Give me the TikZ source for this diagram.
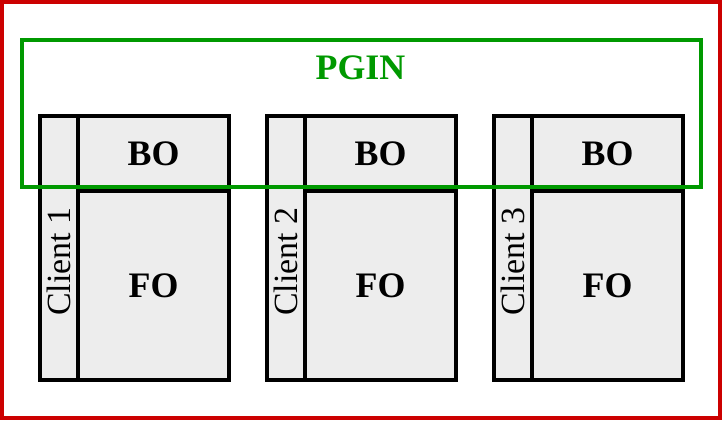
\documentclass[tikz,border=0pt]{standalone}
\usepackage{fontspec}
\setmainfont{Liberation Serif}
\usepackage{tikz}
\definecolor{pginred}{RGB}{204,0,0}
\definecolor{pgingreen}{RGB}{0,153,0}
\definecolor{boxgray}{RGB}{237,237,237}
\tikzset{
  part/.style={font=\fontsize{36}{40}\selectfont\bfseries},
  client/.style={font=\fontsize{34}{38}\selectfont, rotate=90, anchor=base}
}

\begin{document}
\begin{tikzpicture}[x=1bp,y=-1bp,line width=4bp]
\useasboundingbox (0,0) rectangle (722,420);
\draw[pginred] (2,2) rectangle (720,418);
% client 1
\draw[fill=boxgray] (40,116) rectangle (229,380);
\draw (78,116) -- (78,380);
\draw (78,191) -- (229,191);
% client 2
\draw[fill=boxgray] (267,116) rectangle (456,380);
\draw (305,116) -- (305,380);
\draw (305,191) -- (456,191);
% client 3
\draw[fill=boxgray] (494,116) rectangle (683,380);
\draw (532,116) -- (532,380);
\draw (532,191) -- (683,191);
% PGIN frame
\draw[pgingreen] (22,40) rectangle (701,187);
\node[part, text=pgingreen] (pgin) at (360.5,68) {PGIN};
\node[part] (bo1) at (153.5,153.5) {BO};
\node[part] (fo1) at (153.5,286) {FO};
\node[client] (client1) at (70,261.5) {Client 1};
\node[part] (bo2) at (380.5,153.5) {BO};
\node[part] (fo2) at (380.5,286) {FO};
\node[client] (client2) at (297,261.5) {Client 2};
\node[part] (bo3) at (607.5,153.5) {BO};
\node[part] (fo3) at (607.5,286) {FO};
\node[client] (client3) at (524,261.5) {Client 3};
\end{tikzpicture}
\end{document}
